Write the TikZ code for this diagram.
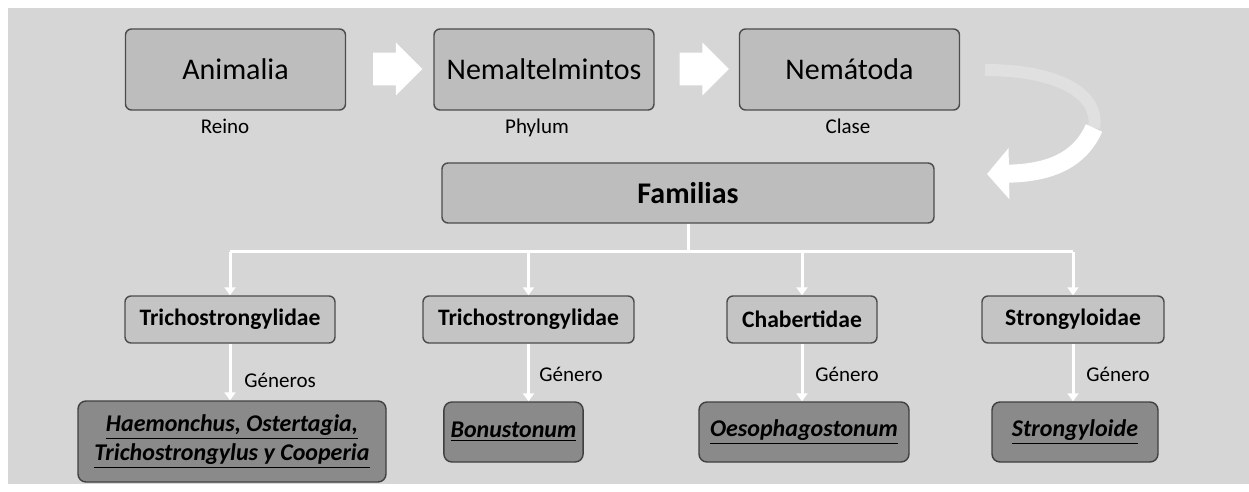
\documentclass[tikz,border=0pt]{standalone}
\usepackage{fontspec}
\setmainfont{Carlito}
\usetikzlibrary{calc,shapes.arrows,arrows.meta}

\begin{document}
\begin{tikzpicture}[x=0.5pt,y=-0.5pt,
    rankbox/.style={draw=black!70,line width=.7pt,fill=black!26,rounded corners=3pt,minimum width=110pt,minimum height=40.5pt,font=\fontsize{15}{17}\selectfont},
    ranklabel/.style={inner sep=1pt,font=\fontsize{10.5}{12}\selectfont},
    familybox/.style={draw=black!70,line width=.7pt,fill=black!23,rounded corners=3pt,minimum height=23.5pt,font=\fontsize{11.8}{13}\selectfont\bfseries},
    genusbox/.style={draw=black!75,line width=.7pt,fill=black!46,rounded corners=4pt,minimum height=30pt,align=center,font=\fontsize{12}{14.5}\selectfont\bfseries\itshape},
    blockarrow/.style={single arrow,fill=white,inner sep=8pt,single arrow head extend=5pt,minimum height=22.5pt},
    link/.style={white,line width=1.5pt},
    tip/.style={-{Triangle[length=4pt,width=5.5pt]}}]
    \useasboundingbox (0,0) rectangle (1249,492);
    \fill[black!16] (8,8) rectangle (1249,484);

    % top row
    \node[rankbox] (animalia) at (235.5,69.5) {Animalia};
    \node[rankbox] (nemal) at (544,69.5) {Nemaltelmintos};
    \node[rankbox] (nemat) at (849.5,69.5) {Nemátoda};
    \node[ranklabel,anchor=base] (reino) at (225,134) {Reino};
    \node[ranklabel,anchor=base] (phylum) at (537,134) {Phylum};
    \node[ranklabel,anchor=base] (clase) at (848,134) {Clase};
    \node[blockarrow] (arr1) at (389.5,69) {};
    \node[blockarrow] (arr2) at (696,69) {};

    % bend down to Familias
    \coordinate (bendtop) at (985,70);
    \coordinate (bendmid) at (1094,128);
    \coordinate (bendtip) at (987,174);
    \draw[white,opacity=.25,line width=6pt] (bendtop) .. controls (1060,70) and (1100,95) .. (bendmid);
    \draw[white,line width=9pt,-{Triangle[length=11pt,width=25pt]}] (bendmid) .. controls (1080,160) and (1050,173) .. (bendtip);

    \node[rankbox,minimum width=246pt,minimum height=30pt] (familias) at (688,193) {\textbf{Familias}};

    % families
    \foreach \n/\x/\w/\t in {t1/230/105/Trichostrongylidae,t2/528.5/105.5/Trichostrongylidae,t3/802/75/Chabertidae,t4/1073/91/Strongyloidae}
        \node[familybox,minimum width=\w pt] (\n) at (\x,319.5) {\t};

    \coordinate (fork) at (686,252);
    \draw[link] (familias.south) -- (familias.south |- fork);
    \draw[link] (t1.north |- fork) -- (t4.north |- fork);
    \foreach \n in {t1,t2,t3,t4}
        \draw[link,tip] (\n.north |- fork) -- (\n.north);

    % genera
    \node[genusbox,minimum width=154pt,minimum height=40.5pt] (g1) at (232,441.5) {\underline{Haemonchus, Ostertagia,}\\\underline{Trichostrongylus y Cooperia}};
    \node[genusbox,minimum width=64.5pt] (g2) at (513.5,432) {\underline{Bonustonum}};
    \node[genusbox,minimum width=105pt] (g3) at (804,432) {\underline{Oesophagostonum}};
    \node[genusbox,minimum width=83pt] (g4) at (1075,432) {\underline{Strongyloide}};

    \foreach \n/\g in {t1/g1,t2/g2,t3/g3,t4/g4}
        \draw[link,tip] (\n.south) -- (\n.south |- \g.north);

    \node[ranklabel,anchor=west] (gen1) at (242,380) {Géneros};
    \node[ranklabel,anchor=west] (gen2) at (537,374) {Género};
    \node[ranklabel,anchor=west] (gen3) at (813,374) {Género};
    \node[ranklabel,anchor=west] (gen4) at (1084,374) {Género};
\end{tikzpicture}
\end{document}
